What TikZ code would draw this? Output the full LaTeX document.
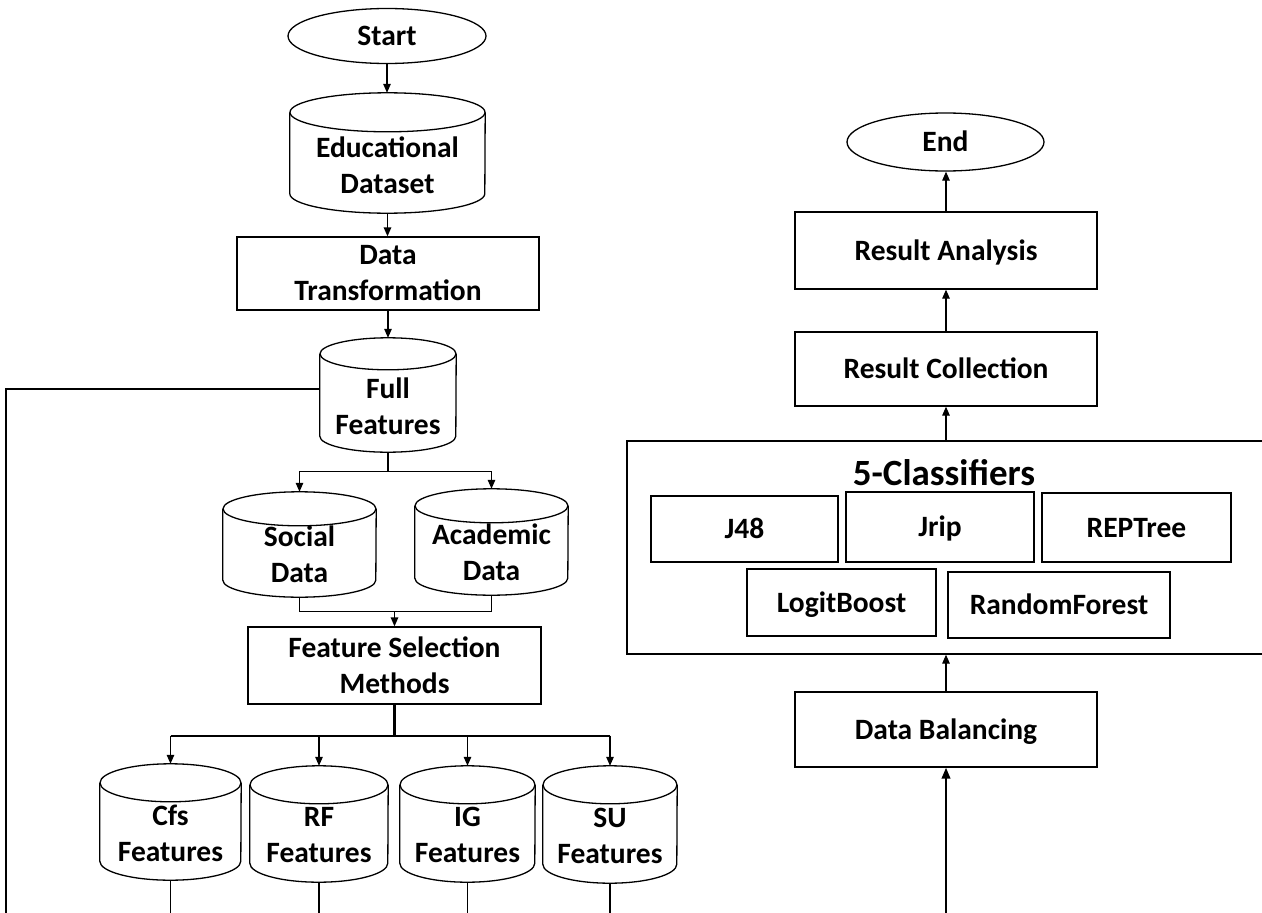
\documentclass[tikz,border=0pt]{standalone}
\usepackage{fontspec}
\setmainfont{Carlito}
\usetikzlibrary{arrows.meta,calc,shapes.geometric}
\tikzset{
  ln/.style={line width=1.3pt, black},
  thk/.style={line width=2.2pt, black},
  arr/.style={ln, -{Triangle[length=9pt,width=7.5pt]}},
  thkarr/.style={thk, -{Triangle[length=11pt,width=8.5pt]}},
  txt/.style={font=\fontsize{29.5}{36}\selectfont\bfseries, align=center, inner sep=0pt},
  box/.style={txt, draw, ln},
  sline/.style={text height=19pt, text depth=0pt},
  term/.style={txt, draw, ln, ellipse, sline},
  cylnode/.style={draw=none, inner sep=0pt},
  ttl/.style={font=\fontsize{37}{44}\selectfont\bfseries, inner sep=0pt, text height=24pt, text depth=0pt}
}
\newcommand\dbcyl[8]{%
  \node[cylnode, minimum width=#4pt, minimum height=#5pt] (#1) at (#2,-#3) {};
  \draw[ln] ($(#1.north)+(0,-#6)$) ellipse [x radius={0.5pt*#4}, y radius={#6 pt}];
  \draw[ln] ($(#1.north west)+(0,-#6)$) -- ($(#1.south west)+(0,#6)$)
     arc [start angle=180, end angle=360, x radius={0.5pt*#4}, y radius={#6 pt}]
     -- ($(#1.north east)+(0,-#6)$);
  \node[txt] at ($(#1.center)+(0,-#7)$) {#8};
}
\begin{document}
\begin{tikzpicture}[x=1pt,y=1pt]
\useasboundingbox (0,0) rectangle (1262,-913);
\fill[white] (0,0) rectangle (1262,-913);
\coordinate (bot) at (0,-913);
\coordinate (leftend) at (6,-913);

% ---------- left column ----------
\node[term, minimum width=198pt, minimum height=55pt] (start) at (387,-36) {Start};
\dbcyl{edu}{387.5}{153}{195}{120}{19.5}{12}{Educational\\Dataset}
\node[box, minimum width=302pt, minimum height=73pt] (trans) at (388,-273.5) {Data\\Transformation};
\dbcyl{full}{388}{395}{136}{114}{16}{11}{Full\\Features}
\dbcyl{social}{299.5}{544.5}{153}{105}{17}{10}{Social\\Data}
\dbcyl{acad}{491.5}{542}{153}{106}{17}{10}{Academic\\Data}
\node[box, minimum width=293pt, minimum height=77pt] (fsm) at (394.5,-665.5) {Feature Selection\\Methods};
\dbcyl{cfs}{170.5}{822}{141}{116}{19}{11}{Cfs\\Features}
\dbcyl{rf}{319}{824}{138}{116}{19}{11}{RF\\Features}
\dbcyl{ig}{467.5}{824}{135}{116}{19}{11}{IG\\Features}
\dbcyl{su}{610}{824.5}{134}{117}{19}{11}{SU\\Features}

\draw[arr] (start.south) -- (start.south |- edu.north);
\draw[arr] (edu.south) -- (edu.south |- trans.north);
\draw[arr] (trans.south) -- (trans.south |- full.north);
\coordinate (br1) at ($(full.south)+(0,-19)$);
\draw[ln] (full.south) -- (br1);
\draw[arr] (br1) -| (social.north);
\draw[arr] (br1) -| (acad.north);
\coordinate (j1) at ($(fsm.north)+(0,15)$);
\draw[ln] (social.south) |- (j1);
\draw[ln] (acad.south) |- (j1);
\draw[arr] (j1) -- (fsm.north);
\coordinate (br2) at ($(fsm.south)+(0,-31)$);
\draw[thk] (fsm.south) -- (br2);
\draw[ln, line width=1.8pt] (cfs.north |- br2) -- (su.north |- br2);
\foreach \c in {cfs,rf,ig,su}{
  \draw[arr] (\c.north |- br2) -- (\c.north);
  \draw[ln] (\c.south) -- (\c.south |- bot);
}
\draw[ln] ([yshift=6pt]full.west) -| (leftend);

% ---------- right column ----------
\node[term, minimum width=197pt, minimum height=58pt] (end) at (945.5,-142) {End};
\node[box, sline, minimum width=302pt, minimum height=77pt] (ra) at (946,-250.5) {Result Analysis};
\node[box, sline, minimum width=302pt, minimum height=74pt] (rc) at (946,-369) {Result Collection};
\node[draw, ln, minimum width=648pt, minimum height=213pt, inner sep=0pt] (cls) at (951,-547.5) {};
\node[ttl] (clst) at (944,-473) {5-Classifiers};
\node[box, sline, minimum width=187pt, minimum height=66pt] (j48) at (744.5,-529) {J48};
\node[box, sline, minimum width=188pt, minimum height=70pt] (jrip) at (940,-527) {Jrip};
\node[box, sline, minimum width=189pt, minimum height=69pt] (rep) at (1136.5,-527.5) {REPTree};
\node[box, sline, minimum width=189pt, minimum height=67pt] (logit) at (841.5,-602.5) {LogitBoost};
\node[box, sline, minimum width=222pt, minimum height=66pt] (rfor) at (1059,-605) {RandomForest};
\node[box, sline, minimum width=302pt, minimum height=75pt] (db) at (946,-729.5) {Data Balancing};

\draw[arr] (ra.north) -- (ra.north |- end.south);
\draw[arr] (rc.north) -- (rc.north |- ra.south);
\draw[arr] (rc.south |- cls.north) -- (rc.south);
\draw[arr] (db.north) -- (db.north |- cls.south);
\draw[thkarr] (db.south |- bot) -- (db.south);
\end{tikzpicture}
\end{document}
